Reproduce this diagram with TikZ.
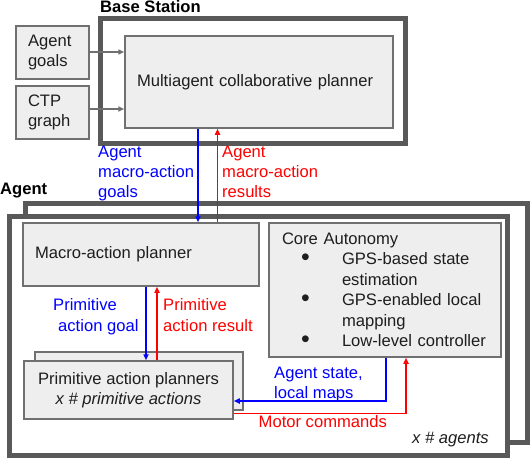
\documentclass[tikz,border=0pt]{standalone}
\usepackage{fontspec}
\setmainfont{Liberation Sans}
\usetikzlibrary{arrows.meta}
\definecolor{boxfill}{HTML}{EEEEEE}
\definecolor{boxline}{HTML}{707070}
\definecolor{framecol}{HTML}{595959}
\definecolor{txt}{HTML}{1E1E1E}
\newcommand\myfs{\fontsize{16.6pt}{20.4pt}\selectfont}
\newcommand\mybul{\makebox[60pt][l]{\hspace*{19pt}\raisebox{-0.5pt}{\scalebox{1.5}{\textbullet}}}}
\tikzset{
  every node/.style={font=\myfs},
  box/.style={draw=boxline, fill=boxfill, line width=1.5pt, inner xsep=12pt, inner ysep=0pt, text=txt, rectangle},
  framebox/.style={draw=framecol, line width=5pt, fill=white, inner sep=0pt, rectangle},
  lbl/.style={inner sep=0pt, align=left, anchor=north west},
  tip/.style={-{Triangle[open,length=6pt,width=5pt]}},
  garrow/.style={tip, draw=boxline, line width=1.5pt},
  barrow/.style={tip, draw=blue, line width=1.5pt},
  rarrow/.style={tip, draw=red, line width=1.5pt},
}
\begin{document}
\begin{tikzpicture}[x=1pt,y=-1pt]
\useasboundingbox (0,0) rectangle (532,460);
% Base station
\node[framebox, minimum width=305.5pt, minimum height=125pt] (base) at (252.75,81) {};
\node[inner sep=0pt, anchor=base west, font=\myfs\bfseries] (basel) at (100,13) {Base Station};
\node[box, minimum width=73pt, minimum height=53pt, text width=49pt, align=left] (goals) at (52.5,52.5) {Agent\\goals};
\node[box, minimum width=73pt, minimum height=53pt, text width=49pt, align=left] (ctp) at (52.5,112.5) {CTP\\graph};
\node[box, minimum width=268pt, minimum height=92pt, text width=244pt, align=left] (planner) at (259,82) {Multiagent collaborative planner};
% Agent frames
\node[inner sep=0pt, anchor=base west, font=\myfs\bfseries] (agentl) at (0,194) {Agent};
\node[framebox, minimum width=502pt, minimum height=238.5pt] (aback) at (276.5,322.75) {};
\node[framebox, minimum width=498pt, minimum height=239pt] (afront) at (258.5,336) {};
\node[box, minimum width=236pt, minimum height=63pt, text width=212pt, align=left] (macro) at (141,254.5) {Macro-action planner};
\node[box, minimum width=232pt, minimum height=134pt, inner xsep=13pt, text width=206pt, align=left] (core) at (385,290) {Core Autonomy\\
\mybul GPS-based state\\
\hspace*{60pt}estimation\\
\mybul GPS-enabled local\\
\hspace*{60pt}mapping\\
\mybul Low-level controller};
\node[box, minimum width=208pt, minimum height=58pt] (primb) at (139,381) {};
\node[box, minimum width=209pt, minimum height=58pt, align=center] (primf) at (128.5,390) {Primitive action planners\\\textit{x \# primitive actions}};
% labels
\node[inner sep=0pt, anchor=base east, text=txt] (xagents) at (489,443.5) {\textit{x \# agents}};
\node[lbl, text=blue] (l1) at (98,145.5) {Agent\\macro-action\\goals};
\node[lbl, text=red] (l2) at (222,145.5) {Agent\\macro-action\\results};
\node[lbl, text=blue] (l3) at (53,298.5) {Primitive\\\hspace*{5pt}action goal};
\node[lbl, text=red] (l4) at (163,298.5) {Primitive\\action result};
\node[lbl, text=blue] (l5) at (274,366.5) {Agent state,\\local maps};
\node[inner sep=0pt, anchor=base west, text=red] (l6) at (258.5,427.7) {Motor commands};
% connectors
\draw[garrow] (goals.east |- 0,52) -- (planner.west |- 0,52);
\draw[garrow] (ctp.east |- 0,109) -- (planner.west |- 0,109);
\coordinate (b1) at (198,0);
\coordinate (r1) at (217.5,0);
\coordinate (b2) at (146,0);
\coordinate (r2) at (157,0);
\coordinate (b3) at (386,401);
\coordinate (r3) at (406,413.5);
\draw[barrow] (planner.south -| b1) -- (macro.north -| b1);
\draw[rarrow] (macro.north -| r1) -- (planner.south -| r1);
\draw[barrow] (macro.south -| b2) -- (primf.north -| b2);
\draw[rarrow] (primf.north -| r2) -- (macro.south -| r2);
\draw[barrow] (core.south -| b3) |- (b3 -| primf.east);
\draw[rarrow] (r3 -| primf.east) -| (core.south -| r3);
\end{tikzpicture}
\end{document}
